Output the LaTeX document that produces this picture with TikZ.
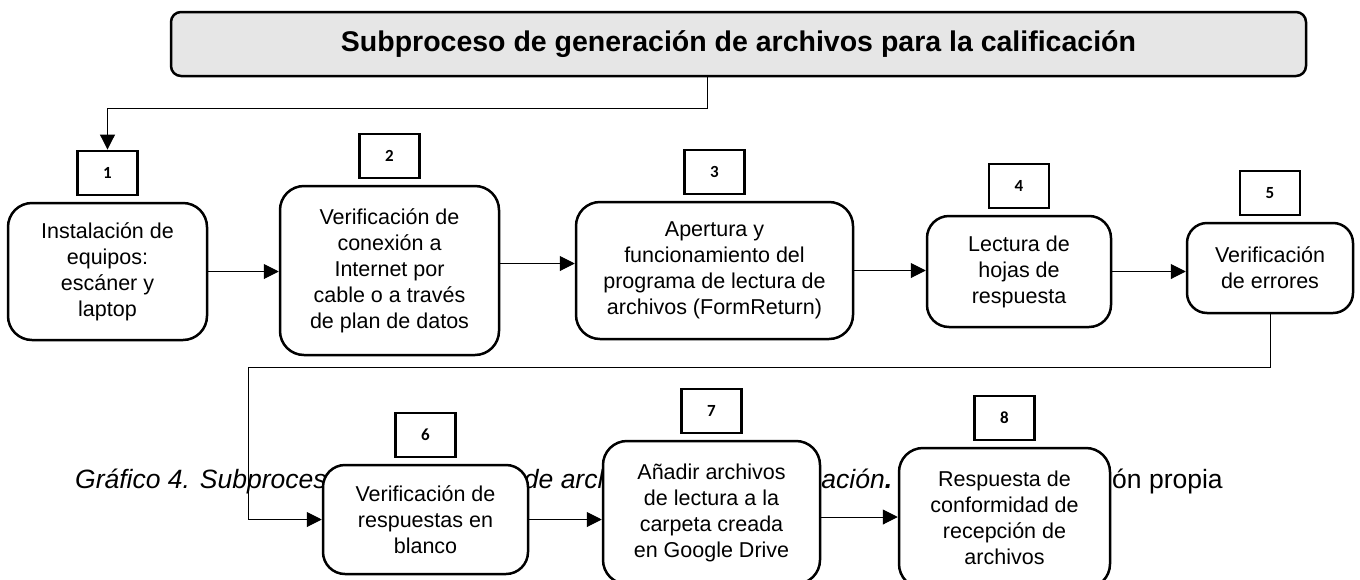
\documentclass[tikz,border=0pt]{standalone}
\usepackage{fontspec}
\setmainfont{Liberation Sans}
\newfontfamily\numfont{Carlito}
\usetikzlibrary{positioning,arrows.meta}
\definecolor{grisclaro}{RGB}{230,230,230}
\tikzset{
  paso/.style = {draw = black, fill = white, line width = 2.5pt, rounded corners = 24pt, align = center, inner sep = 0pt, font = \fontsize{21.5}{26}\selectfont},
  num/.style = {draw = black, fill = white, line width = 2.2pt, minimum width = 60pt, minimum height = 44pt, inner sep = 0pt, font = \numfont\bfseries\fontsize{17}{17}\selectfont},
  titulo/.style = {draw = black, fill = grisclaro, line width = 2.5pt, rounded corners = 10pt, inner sep = 0pt, font = \bfseries\fontsize{28.5}{32}\selectfont},
  flecha/.style = {line width = 1pt, -{Triangle[length = 15pt, width = 15pt]}}
}
\begin{document}
\begin{tikzpicture}[x = 1pt, y = -1pt]
\useasboundingbox (0,0) rectangle (1360,579);
\node[anchor = base west, inner sep = 0pt, font = \fontsize{26.5}{30}\selectfont] (pie) at (75,488) {\textit{Gráfico 4. Subproceso de generación de archivos para la calificación\textbf{.}} Fuente: Elaboración propia};
\node[titulo, minimum width = 1135pt, minimum height = 64pt] (hdr) at (738.5,44) {Subproceso de generación de archivos para la calificación};
\node[paso, minimum width = 199pt, minimum height = 137pt] (b1) at (107.5,271.5) {Instalación de\\equipos:\\escáner y\\laptop};
\node[paso, minimum width = 219pt, minimum height = 169pt] (b2) at (389.5,270.5) {Verificación de\\conexión a\\Internet por\\cable o a través\\de plan de datos};
\node[paso, minimum width = 277pt, minimum height = 137pt] (b3) at (714.5,270.5) {Apertura y\\funcionamiento del\\programa de lectura de\\archivos (FormReturn)};
\node[paso, minimum width = 184pt, minimum height = 111pt, rounded corners = 22pt] (b4) at (1019,271.5) {Lectura de\\hojas de\\respuesta};
\node[paso, minimum width = 166pt, minimum height = 90pt, rounded corners = 20pt] (b5) at (1270,268) {Verificación\\de errores};
\node[paso, minimum width = 205pt, minimum height = 109pt, rounded corners = 22pt] (b6) at (425.5,519.5) {Verificación de\\respuestas en\\blanco};
\node[paso, minimum width = 217pt, minimum height = 143pt] (b7) at (711.5,512.5) {Añadir archivos\\de lectura a la\\carpeta creada\\en Google Drive};
\node[paso, minimum width = 211pt, minimum height = 140pt] (b8) at (1004.5,518) {Respuesta de\\conformidad de\\recepción de\\archivos};
\foreach \n in {1,...,8} \node[num, above = 6pt of b\n] (n\n) {\n};
\foreach \a/\b in {1/2,3/4,4/5,6/7} \draw[flecha] (b\a.east) -- (b\a.east -| b\b.west);
\draw[flecha] ([yshift = 7pt]b2.east) -- ([yshift = 7pt]b2.east -| b3.west);
\draw[flecha] ([yshift = -4.5pt]b7.east) -- ([yshift = -4.5pt]b7.east -| b8.west);
\coordinate (c1) at (707,108);
\draw[flecha] (hdr.south -| c1) -- (c1) -| (n1.north);
\coordinate (c2) at (248,367);
\draw[flecha] (b5.south) |- (c2) |- (b6.west);
\end{tikzpicture}
\end{document}
